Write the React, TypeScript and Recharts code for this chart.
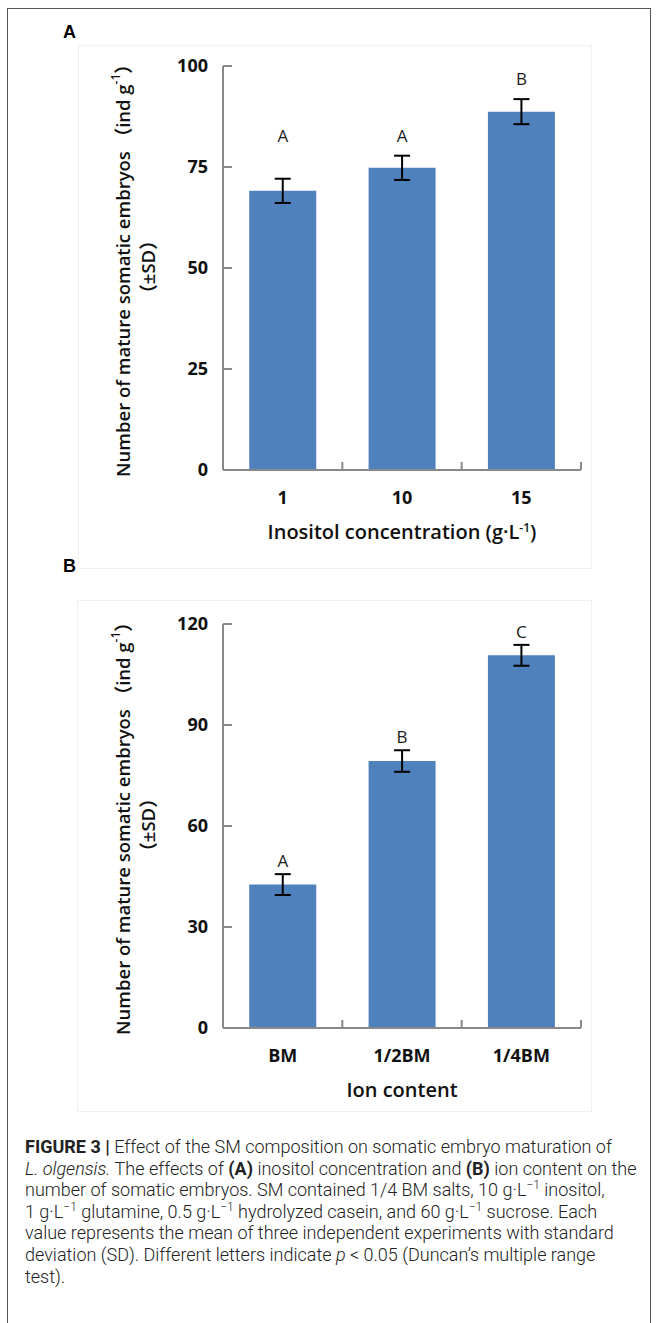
import React from "react";
import { BarChart, Bar, XAxis, YAxis, ErrorBar, LabelList } from "recharts";

// panel A: inositol concentration
const inositolCats = ["1", "10", "15"];
const inositolMeans = [69.1, 74.8, 88.7];
const inositolSd = [3.0, 3.0, 3.1];
const inositolLetters = ["A", "A", "B"];
const inositolTicks = [0, 25, 50, 75, 100];

// panel B: ion content
const ionCats = ["BM", "1/2BM", "1/4BM"];
const ionMeans = [42.6, 79.3, 110.7];
const ionSd = [3.1, 3.2, 3.1];
const ionLetters = ["A", "B", "C"];
const ionTicks = [0, 30, 60, 90, 120];

const AXIS = "#898989";
const BAR = "#4f81bd";
const LABEL_FONT = "'Open Sans', 'Noto Sans CJK SC', sans-serif";

const YTick = ({ x, y, payload }: any) => (
  <g>
    <line x1={x} x2={x + 9} y1={y} y2={y} stroke={AXIS} strokeWidth={2} />
    <text x={x - 15} y={y + 6} textAnchor="end" fontFamily={LABEL_FONT} fontWeight={700} fontSize={18} fill="#111">
      {payload.value}
    </text>
  </g>
);

const XTick = ({ x, y, payload }: any) => {
  const off = payload.offset ?? 0;
  return (
    <g>
      <line x1={x + off} x2={x + off} y1={y} y2={y - 8} stroke={AXIS} strokeWidth={2} />
      <text x={x} y={y + 34} textAnchor="middle" fontFamily={LABEL_FONT} fontWeight={700} fontSize={18} fill="#111">
        {payload.value}
      </text>
    </g>
  );
};

const yTitle = ({ viewBox }: any) => {
  const cx1 = viewBox.x + 122;
  const cx2 = viewBox.x + 147;
  const mid = viewBox.y + viewBox.height / 2;
  const cy1 = mid - 2;
  const cy2 = mid - 1;
  return (
    <g fontFamily={LABEL_FONT} fontWeight={600} fontSize={18.5} fill="#111">
      <text x={cx1} y={cy1} textAnchor="middle" dominantBaseline="central" transform={`rotate(-90 ${cx1} ${cy1})`}>
        Number of mature somatic embryos （ind g<tspan dy={-7} fontSize={12}>-1</tspan>
        <tspan dy={7}>）</tspan>
      </text>
      <text x={cx2} y={cy2} textAnchor="middle" dominantBaseline="central" transform={`rotate(-90 ${cx2} ${cy2})`}>
        （±SD）
      </text>
    </g>
  );
};

const xTitle = (content: React.ReactNode) => ({ viewBox }: any) => (
  <text
    x={viewBox.x + viewBox.width / 2}
    y={viewBox.y + 69}
    textAnchor="middle"
    fontFamily={LABEL_FONT}
    fontWeight={600}
    fontSize={20}
    fill="#111"
  >
    {content}
  </text>
);

const letterLabel = (letters: string[], means: number[], sds: number[], gap: number) => (props: any) => {
  const { x, y, width, height, value } = props;
  const i = props.index ?? means.indexOf(value);
  const k = height / means[i];
  const base = y + height;
  let top = 0;
  means.forEach((m, j) => {
    if (letters[j] === letters[i]) top = Math.max(top, m + sds[j]);
  });
  return (
    <text x={x + width / 2} y={base - top * k - gap} textAnchor="middle" fontFamily={LABEL_FONT} fontSize={17} fill="#1a1a1a">
      {letters[i]}
    </text>
  );
};

function Panel({ cats, means, sds, letters, ticks, gap, title }: any) {
  const data = cats.map((c: string, i: number) => ({ cat: c, mean: means[i], sd: sds[i] }));
  return (
    <BarChart width={600} height={580} data={data} margin={{ top: 66, right: 19, bottom: 50, left: 0 }} barCategoryGap="22%">
      <XAxis
        dataKey="cat"
        height={60}
        axisLine={{ stroke: AXIS, strokeWidth: 2 }}
        tickLine={false}
        tickSize={0}
        tickMargin={0}
        tick={<XTick />}
        interval={0}
        label={{ content: xTitle(title) } as any}
      />
      <YAxis
        width={223}
        domain={[0, ticks[ticks.length - 1]]}
        ticks={ticks}
        axisLine={{ stroke: AXIS, strokeWidth: 2 }}
        tickLine={false}
        tickSize={0}
        tickMargin={0}
        tick={<YTick />}
        label={{ content: yTitle } as any}
      />
      <Bar dataKey="mean" fill={BAR} isAnimationActive={false}>
        <ErrorBar dataKey="sd" width={8} stroke="#000" strokeWidth={2} direction="y" />
        <LabelList dataKey="mean" content={letterLabel(letters, means, sds, gap)} />
      </Bar>
    </BarChart>
  );
}

const sup = (s: string) => <sup style={{ fontSize: 12, lineHeight: 0 }}>{s}</sup>;

export default function App() {
  const capLine: React.CSSProperties = { whiteSpace: "nowrap", height: 21.6, lineHeight: "21.6px" };
  return (
    <div style={{ position: "absolute", left: 0, top: 0, width: 657, height: 1323, overflow: "hidden", background: "#fff" }}>
      <div style={{ position: "absolute", left: 7, top: 8, width: 644, height: 1400, border: "1px solid #555", boxSizing: "border-box" }} />
      <div style={{ position: "absolute", left: 78, top: 45, width: 512, height: 522, border: "1px solid #f0f0f0" }} />
      <div style={{ position: "absolute", left: 77, top: 600, width: 513, height: 510, border: "1px solid #f0f0f0" }} />
      <div style={{ position: "absolute", left: 63, top: 22, fontFamily: "'Liberation Sans', Arial", fontWeight: 700, fontSize: 18 }}>A</div>
      <div style={{ position: "absolute", left: 63, top: 556, fontFamily: "'Liberation Sans', Arial", fontWeight: 700, fontSize: 18 }}>B</div>
      <div style={{ position: "absolute", left: 0, top: 0 }}>
        <Panel
          cats={inositolCats}
          means={inositolMeans}
          sds={inositolSd}
          letters={inositolLetters}
          ticks={inositolTicks}
          gap={14}
          title={
            <>
              Inositol concentration (g·L<tspan dy={-7} fontSize={12}>-1</tspan>
              <tspan dy={7}>)</tspan>
            </>
          }
        />
      </div>
      <div style={{ position: "absolute", left: 0, top: 558 }}>
        <Panel cats={ionCats} means={ionMeans} sds={ionSd} letters={ionLetters} ticks={ionTicks} gap={7} title="Ion content" />
      </div>
      <div
        style={{
          position: "absolute",
          left: 25,
          top: 1136,
          fontFamily: "Roboto, sans-serif",
          fontWeight: 300,
          fontSize: 18,
          color: "#222",
        }}
      >
        <div style={capLine}>
          <b style={{ fontWeight: 700 }}>FIGURE 3 |</b> Effect of the SM composition on somatic embryo maturation of
        </div>
        <div style={capLine}>
          <i>L. olgensis.</i> The effects of <b style={{ fontWeight: 700 }}>(A)</b> inositol concentration and{" "}
          <b style={{ fontWeight: 700 }}>(B)</b> ion content on the
        </div>
        <div style={capLine}>
          number of somatic embryos. SM contained 1/4 BM salts, 10 g·L{sup("−1")} inositol,
        </div>
        <div style={capLine}>
          1 g·L{sup("−1")} glutamine, 0.5 g·L{sup("−1")} hydrolyzed casein, and 60 g·L{sup("−1")} sucrose. Each
        </div>
        <div style={capLine}>value represents the mean of three independent experiments with standard</div>
        <div style={capLine}>
          deviation (SD). Different letters indicate <i>p</i> &lt; 0.05 (Duncan’s multiple range
        </div>
        <div style={capLine}>test).</div>
      </div>
    </div>
  );
}
